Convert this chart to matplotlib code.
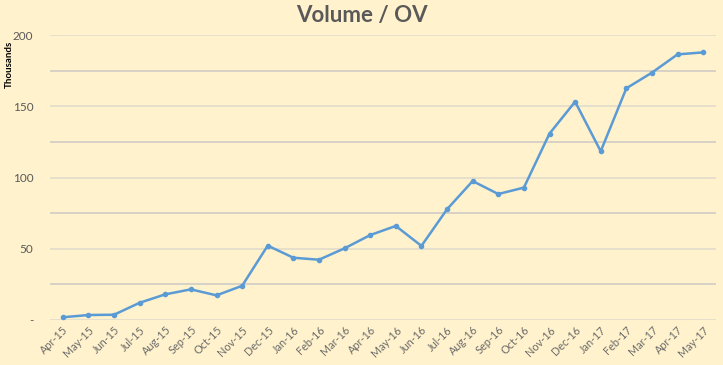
import matplotlib
matplotlib.use("Agg")
import matplotlib.pyplot as plt
from matplotlib.ticker import MultipleLocator, FixedLocator, FuncFormatter

months = ["Apr-15", "May-15", "Jun-15", "Jul-15", "Aug-15", "Sep-15", "Oct-15", "Nov-15",
          "Dec-15", "Jan-16", "Feb-16", "Mar-16", "Apr-16", "May-16", "Jun-16", "Jul-16",
          "Aug-16", "Sep-16", "Oct-16", "Nov-16", "Dec-16", "Jan-17", "Feb-17", "Mar-17",
          "Apr-17", "May-17"]
volume = [1.9, 3.5, 3.7, 12.1, 18.0, 21.5, 17.3, 24.0, 52.2, 43.7, 42.3, 50.3, 59.6, 66.0,
          52.0, 77.7, 97.5, 88.4, 92.9, 130.8, 153.2, 118.4, 162.6, 173.6, 186.4, 187.8]

bg = "#FFF2CC"
plt.rcParams['font.family'] = ['Lato', 'DejaVu Sans']

fig = plt.figure(figsize=(7.23, 3.65), dpi=100, facecolor=bg)
ax = fig.add_axes([50/723, 1-320/365, 666/723, 285/365], facecolor=bg)

x = list(range(len(months)))
ax.plot(x, volume, color="#5B9BD5", lw=1.8, marker="o", ms=3, zorder=3)

ax.set_xlim(-0.5, len(months) - 0.5)
ax.set_ylim(0, 200)
ax.set_xticks(x)
ax.set_xticklabels(months, rotation=45, ha="right", rotation_mode="anchor",
                   fontsize=7.8, color="#6B6B6B")
ax.yaxis.set_major_locator(MultipleLocator(50))
ax.yaxis.set_minor_locator(FixedLocator([25, 75, 125, 175]))
ax.yaxis.set_major_formatter(FuncFormatter(lambda v, p: "-" if v == 0 else f"{int(v)}"))
ax.tick_params(axis="y", which="both", length=0, labelsize=8.5, colors="#595959", pad=12)
ax.tick_params(axis="x", length=0, pad=3)
ax.grid(axis="y", which="major", color="#E2DCCB", lw=1.2)
ax.grid(axis="y", which="minor", color="#CFCCC4", lw=1.2)
for s in ax.spines.values():
    s.set_visible(False)
ax.set_axisbelow(True)

fig.text(9/723, 1-64/365, "Thousands", rotation=90, ha="center", va="center",
         fontsize=7, fontweight="bold", color="black")
fig.suptitle("Volume / OV", x=0.5, y=0.985, fontsize=16, fontweight="bold", color="#595959")

fig.savefig("out.png", dpi=100, facecolor=bg)
